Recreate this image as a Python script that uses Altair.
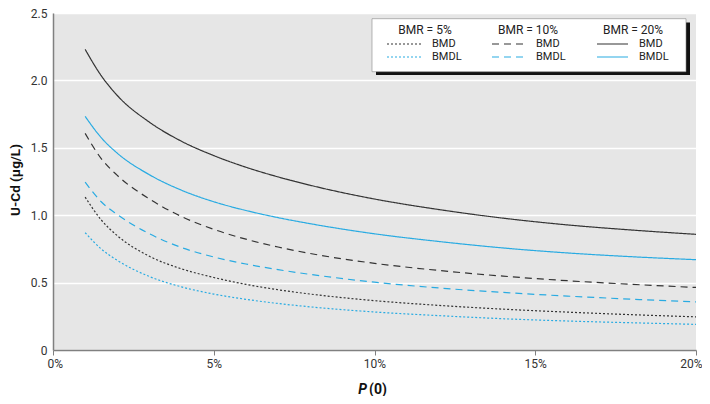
import altair as alt
import pandas as pd

FONT = "Roboto, Liberation Sans, sans-serif"

# x positions, P(0) in %
p0 = [1, 1.5, 2, 3, 4, 5, 6, 7, 8, 10, 12, 14, 16, 18, 20]

# BMR = 5%
bmd_5 = [1.134, 0.965, 0.848, 0.695, 0.602, 0.538, 0.487, 0.447, 0.415, 0.366, 0.331, 0.303, 0.281, 0.262, 0.246]
bmdl_5 = [0.87, 0.75, 0.665, 0.545, 0.468, 0.415, 0.376, 0.345, 0.32, 0.282, 0.255, 0.232, 0.215, 0.202, 0.19]
# BMR = 10%
bmd_10 = [1.607, 1.42, 1.295, 1.12, 0.99, 0.895, 0.822, 0.764, 0.716, 0.643, 0.59, 0.548, 0.514, 0.487, 0.464]
bmdl_10 = [1.245, 1.10, 1.005, 0.862, 0.76, 0.69, 0.638, 0.596, 0.561, 0.503, 0.46, 0.427, 0.40, 0.377, 0.357]
# BMR = 20%
bmd_20 = [2.23, 2.035, 1.888, 1.69, 1.548, 1.442, 1.356, 1.284, 1.222, 1.12, 1.042, 0.978, 0.928, 0.89, 0.858]
bmdl_20 = [1.733, 1.575, 1.46, 1.30, 1.185, 1.10, 1.035, 0.982, 0.937, 0.862, 0.805, 0.757, 0.72, 0.692, 0.67]

bmr_levels = ["5%", "10%", "20%"]
estimates = ["BMD", "BMDL"]
series_values = {
    ("5%", "BMD"): bmd_5, ("5%", "BMDL"): bmdl_5,
    ("10%", "BMD"): bmd_10, ("10%", "BMDL"): bmdl_10,
    ("20%", "BMD"): bmd_20, ("20%", "BMDL"): bmdl_20,
}

x_ticks = [0, 5, 10, 15, 20]
y_ticks = [0, 0.5, 1.0, 1.5, 2.0, 2.5]

rows = []
for (bmr, est), vals in series_values.items():
    for x, v in zip(p0, vals):
        rows.append({"p0": x, "value": v, "bmr": bmr, "est": est, "series": f"{bmr} {est}"})
df = pd.DataFrame(rows)

COLORS = {"BMD": "#333333", "BMDL": "#29abe2"}
DASHES = {"5%": [2, 2], "10%": [7, 5], "20%": [1, 0]}

lines = alt.Chart(df).mark_line(interpolate="monotone", strokeWidth=1.2).encode(
    x=alt.X("p0:Q", scale=alt.Scale(domain=[0, 20], nice=False),
            axis=alt.Axis(values=x_ticks, labelExpr="datum.value + '%'", title=None,
                          grid=False, labelPadding=3, labelFlush=True, labelFlushOffset=6,
                          ticks=True, tickSize=5)),
    y=alt.Y("value:Q", scale=alt.Scale(domain=[0, 2.5], nice=False),
            axis=alt.Axis(values=y_ticks,
                          labelExpr="datum.value == 0 ? '0' : format(datum.value, '.1f')",
                          title=None, grid=True, gridColor="white", gridWidth=1.5,
                          ticks=False, labelPadding=6)),
    color=alt.Color("est:N", scale=alt.Scale(domain=estimates, range=[COLORS[e] for e in estimates]), legend=None),
    strokeDash=alt.StrokeDash("bmr:N", scale=alt.Scale(domain=bmr_levels, range=[DASHES[b] for b in bmr_levels]), legend=None),
    detail="series:N",
)

one = pd.DataFrame({"k": [0]})

# custom legend box (pixel positions in plot area)
shadow = alt.Chart(one).mark_rect().encode(
    x=alt.value(323), x2=alt.value(637), y=alt.value(9.5), y2=alt.value(62),
    fill=alt.value("#111111"))
box = alt.Chart(one).mark_rect(strokeWidth=0.6).encode(
    x=alt.value(319), x2=alt.value(633), y=alt.value(5.7), y2=alt.value(58.7),
    fill=alt.value("white"), stroke=alt.value("#888888"))

legend_layers = [shadow, box]
col_center = [372, 475, 580]
line_x1 = [334, 439, 544]
line_x2 = [370, 472, 575]
text_x = [379, 483, 586]
row_y = {"BMD": 31, "BMDL": 44}
for i, bmr in enumerate(bmr_levels):
    legend_layers.append(alt.Chart(one).mark_text(
        text=f"BMR = {bmr}", font=FONT, fontSize=12, align="center", baseline="middle"
    ).encode(x=alt.value(col_center[i]), y=alt.value(17), fill=alt.value("#222222")))
    for est in estimates:
        legend_layers.append(alt.Chart(one).mark_rule(
            strokeDash=DASHES[bmr], strokeWidth=1.2
        ).encode(x=alt.value(line_x1[i]), x2=alt.value(line_x2[i]), y=alt.value(row_y[est]),
                 stroke=alt.value(COLORS[est])))
        legend_layers.append(alt.Chart(one).mark_text(
            text=est, font=FONT, fontSize=11, align="left", baseline="middle"
        ).encode(x=alt.value(text_x[i]), y=alt.value(row_y[est]), fill=alt.value("#222222")))

# axis titles
y_title = alt.Chart(one).mark_text(
    text="U-Cd (μg/L)", font=FONT, fontSize=13.5, fontWeight="bold", angle=270,
    align="center", baseline="middle"
).encode(x=alt.value(-37), y=alt.value(167), fill=alt.value("#111111"))
x_title_p = alt.Chart(one).mark_text(
    text="P", font=FONT, fontSize=14, fontWeight="bold", fontStyle="italic",
    align="right", baseline="middle"
).encode(x=alt.value(314), y=alt.value(377), fill=alt.value("#111111"))
x_title_0 = alt.Chart(one).mark_text(
    text="(0)", font=FONT, fontSize=14, fontWeight="bold",
    align="left", baseline="middle"
).encode(x=alt.value(316), y=alt.value(377), fill=alt.value("#111111"))

chart = alt.layer(lines, *legend_layers, y_title, x_title_p, x_title_0).properties(
    width=643, height=337,
    padding={"left": 45, "top": 5, "right": 6, "bottom": 46},
    autosize=alt.AutoSizeParams(type="none"),
).configure_view(fill="#e6e6e6", stroke=None).configure_axis(
    labelFont=FONT, labelFontSize=12, labelColor="#333333",
    domainColor="#808080", domainWidth=1.5, tickColor="#808080",
)

chart.save("out.html", embed_options={"renderer": "svg", "actions": False})
